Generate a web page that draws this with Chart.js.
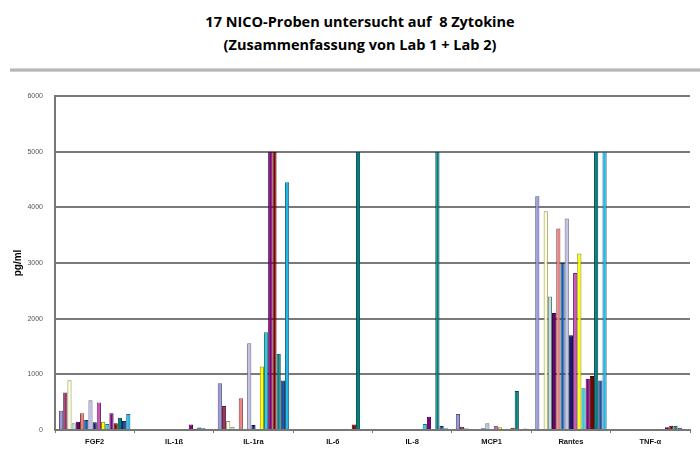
<html>
<head>
<meta charset="utf-8">
<script src="https://cdn.jsdelivr.net/npm/chart.js"></script>
<style>
  body { margin: 0; background: #fff; }
  #wrap { position: relative; width: 700px; height: 450px; }
  .ttl { position: absolute; left: 0; width: 720px; text-align: center;
         font-family: "Open Sans", sans-serif; font-weight: bold; font-size: 14.5px; color: #000; }
  #rule { position: absolute; left: 10px; top: 68px; width: 690px; height: 4px;
          background: linear-gradient(#e4e4e4, #a8a8a8, #dcdcdc); }
  canvas { position: absolute; left: 0; top: 0; }
</style>
</head>
<body>
<div id="wrap">
  <div class="ttl" style="top:12px">17 NICO-Proben untersucht auf&nbsp; 8 Zytokine</div>
  <div class="ttl" style="top:35px">(Zusammenfassung von Lab 1 + Lab 2)</div>
  <div id="rule"></div>
  <canvas id="myChart" width="700" height="450"></canvas>
</div>

<script>
  // categories
  let cytokines = ['FGF2', 'IL-1ß', 'IL-1ra', 'IL-6', 'IL-8', 'MCP1', 'Rantes', 'TNF-α'];
  let yTicks = [0, 1000, 2000, 3000, 4000, 5000, 6000];

  // one array per sample (17), values in pg/ml, same order as cytokines
  let probe1  = [345, 0, 840, 0, 0, 288, 4200, 0];
  let probe2  = [673, 0, 430, 0, 0, 60, 0, 0];
  let probe3  = [893, 0, 160, 0, 15, 40, 3930, 0];
  let probe4  = [120, 0, 60, 0, 0, 20, 2400, 0];
  let probe5  = [150, 0, 0, 0, 0, 20, 2100, 0];
  let probe6  = [300, 0, 570, 0, 0, 20, 3620, 0];
  let probe7  = [180, 0, 20, 0, 0, 30, 3000, 0];
  let probe8  = [535, 0, 1560, 0, 10, 120, 3800, 0];
  let probe9  = [137, 0, 90, 0, 0, 20, 1700, 0];
  let probe10 = [494, 0, 0, 0, 0, 75, 2820, 0];
  let probe11 = [150, 0, 1140, 0, 0, 50, 3170, 0];
  let probe12 = [107, 0, 1757, 15, 110, 10, 750, 15];
  let probe13 = [300, 100, 5000, 20, 240, 20, 920, 50];
  let probe14 = [120, 10, 5000, 100, 0, 40, 970, 75];
  let probe15 = [220, 45, 1370, 5000, 5000, 700, 5000, 75];
  let probe16 = [160, 30, 890, 0, 70, 0, 890, 40];
  let probe17 = [286, 15, 4450, 10, 30, 25, 5000, 20];

  let probes = [probe1, probe2, probe3, probe4, probe5, probe6, probe7, probe8, probe9,
                probe10, probe11, probe12, probe13, probe14, probe15, probe16, probe17];

  let colors = ['#9999DD', '#993366', '#FFFFCC', '#BFE0E0', '#660066', '#F08080', '#1060B0', '#C0C0E8',
                '#1A1A70', '#CC55BB', '#FFFF00', '#33CCDD', '#800080', '#800000', '#008080', '#1E4FA8', '#22B8E8'];

  function darker(hex) {
    let n = parseInt(hex.slice(1), 16);
    let r = Math.round(((n >> 16) & 255) * 0.55);
    let g = Math.round(((n >> 8) & 255) * 0.55);
    let b = Math.round((n & 255) * 0.55);
    return 'rgb(' + r + ',' + g + ',' + b + ')';
  }

  let datasets = [];
  for (let i = 0; i < probes.length; i++) {
    datasets.push({
      label: 'Probe ' + (i + 1),
      data: probes[i],
      backgroundColor: colors[i],
      borderColor: darker(colors[i]),
      borderWidth: 1,
      categoryPercentage: 0.9,
      barPercentage: 1,
    });
  }

  const ctx = document.getElementById('myChart');
  var chart = new Chart(ctx, {
    type: 'bar',
    data: { labels: cytokines, datasets: datasets },
    options: {
      responsive: false,
      animation: false,
      layout: { padding: { top: 96, right: 10, left: 0, bottom: 0 } },
      plugins: {
        legend: { display: false },
        tooltip: { enabled: false },
      },
      scales: {
        y: {
          min: 0,
          max: 6000,
          afterBuildTicks: function (scale) {
            scale.ticks = yTicks.map(v => ({ value: v }));
          },
          afterFit: function (scale) { scale.width = 55; },
          border: { color: '#777', width: 2 },
          grid: { color: '#7a7a7a', lineWidth: 2, drawTicks: false },
          ticks: {
            padding: 12,
            color: '#555',
            font: { family: 'Liberation Sans', size: 7 },
            callback: function (v) { return String(v); },
          },
          title: {
            display: true,
            text: 'pg/ml',
            color: '#000',
            padding: { top: 12, bottom: 0 },
            font: { family: 'Liberation Sans', size: 10, weight: 'bold' },
          },
        },
        x: {
          afterFit: function (scale) { scale.height = 20; },
          border: { color: '#777', width: 2 },
          grid: { display: true, drawOnChartArea: false, drawTicks: true, tickLength: 3, color: '#777', offset: true },
          ticks: {
            padding: 4,
            color: '#111',
            font: { family: 'Liberation Sans', size: 7.5, weight: 'bold' },
          },
        },
      }
    }
  });
</script>
</body>
</html>
